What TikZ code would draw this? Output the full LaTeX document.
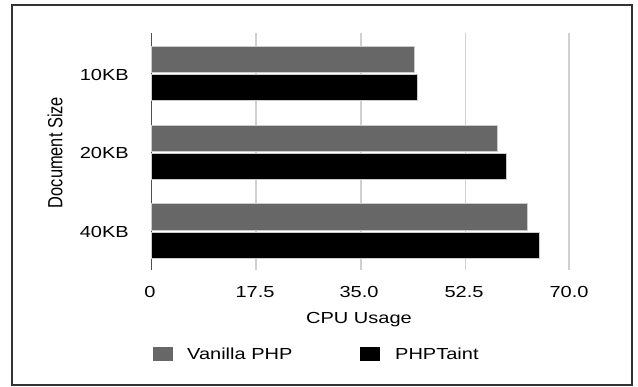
\documentclass[tikz,border=0pt]{standalone}
\usepackage{fontspec}
\setmainfont{Liberation Sans}[FakeStretch=1.25]
\newfontfamily\uprightsans{Liberation Sans}
\usetikzlibrary{positioning}
\definecolor{vanillacolor}{RGB}{103, 103, 103}
\definecolor{taintcolor}{RGB}{0, 0, 0}
\definecolor{gridcolor}{RGB}{208, 208, 208}
\definecolor{axiscolor}{RGB}{80, 80, 80}
\definecolor{framecolor}{RGB}{50, 50, 50}
\tikzset{
    % Text styles
    ticklabel/.style={font=\fontsize{16}{19}\selectfont, inner sep=0pt},
    catlabel/.style={font=\fontsize{16}{19}\selectfont, inner sep=0pt, anchor=east},
    axistitle/.style={font=\fontsize{16}{19}\selectfont, inner sep=0pt},
    legendtext/.style={font=\fontsize{16}{19}\selectfont, inner sep=0pt, anchor=west},
    % Bars
    vanillabar/.style={fill=vanillacolor, draw=gray!40, line width=0.6pt},
    taintbar/.style={fill=taintcolor, draw=gray!40, line width=0.6pt},
    % Lines
    gridline/.style={draw=gridcolor, line width=1.3pt},
    axisline/.style={draw=axiscolor, line width=1.3pt},
}

\begin{document}
\begin{tikzpicture}[x=1pt, y=-1pt]
\useasboundingbox (0,0) rectangle (638,387);

% Outer frame
\draw[framecolor, line width=1.4pt] (12,5) rectangle (632,385);

% Grid lines and value axis
\draw[gridline] (256,33) -- (256,270);
\draw[gridline] (361,33) -- (361,270);
\draw[gridline] (465.5,33) -- (465.5,270);
\draw[gridline] (569,33) -- (569,270);
\draw[axisline] (151.5,33) -- (151.5,270);

% Bars (values in CPU usage units)
\begin{scope}[shift={(151.5,0)}, x=5.98pt]
    \filldraw[vanillabar] (0,46) rectangle (44.0,72);
    \filldraw[taintbar] (0,74) rectangle (44.4,100.5);
    \filldraw[vanillabar] (0,125.5) rectangle (57.8,151);
    \filldraw[taintbar] (0,153) rectangle (59.4,179);
    \filldraw[vanillabar] (0,203) rectangle (62.9,230);
    \filldraw[taintbar] (0,232) rectangle (64.9,258);
\end{scope}

% Category labels
\node (kb10) [catlabel] at (129,75) {10KB};
\node (kb20) [catlabel] at (129,153) {20KB};
\node (kb40) [catlabel] at (129,232) {40KB};
\node (ytitle) [axistitle, font=\uprightsans\fontsize{16.4}{19}\selectfont, xscale=1.25, rotate=90] at (55,152.5) {Document Size};

% Tick labels
\node (t0) [ticklabel] at (150,292) {0};
\node (t1) [ticklabel] at (255,292) {17.5};
\node (t2) [ticklabel] at (359,292) {35.0};
\node (t3) [ticklabel] at (464,292) {52.5};
\node (t4) [ticklabel] at (569,292) {70.0};
\node (xtitle) [axistitle] at (359,320) {CPU Usage};

% Legend
\fill[vanillacolor] (153,347) rectangle (173,361);
\node (vanilla) [legendtext] at (187,354) {Vanilla PHP};
\fill[taintcolor] (360,347) rectangle (380,361);
\node (taint) [legendtext] at (395,354) {PHPTaint};

\end{tikzpicture}
\end{document}
